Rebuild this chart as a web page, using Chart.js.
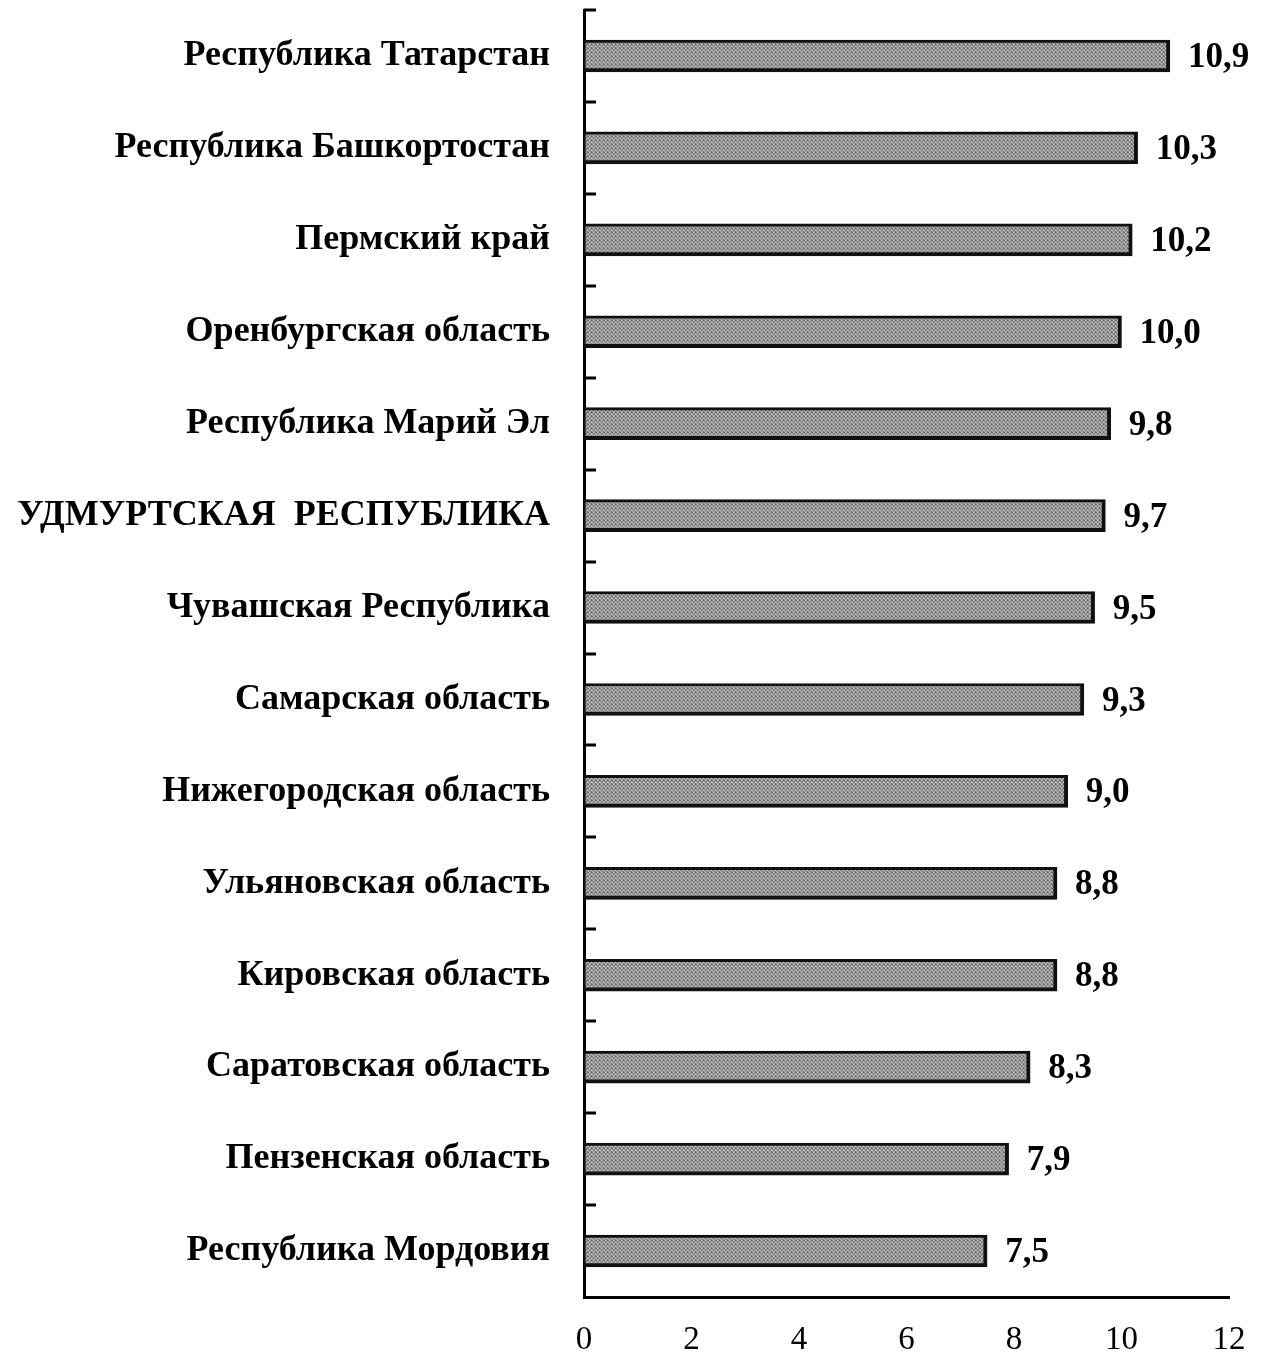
<!DOCTYPE html>
<html>
<head>
<meta charset="utf-8">
<script src="https://cdn.jsdelivr.net/npm/chart.js@4.4.1/dist/chart.umd.min.js"></script>
<style>
  html, body { margin: 0; padding: 0; background: #fff; }
  #wrap { width: 1268px; height: 1354px; }
</style>
</head>
<body>
<div id="wrap"><canvas id="chart" width="1268" height="1354"></canvas></div>
<script>
// Regions (top to bottom) and their values
const regions = [
    'Республика Татарстан',
    'Республика Башкортостан',
    'Пермский край',
    'Оренбургская область',
    'Республика Марий Эл',
    'УДМУРТСКАЯ  РЕСПУБЛИКА',
    'Чувашская Республика',
    'Самарская область',
    'Нижегородская область',
    'Ульяновская область',
    'Кировская область',
    'Саратовская область',
    'Пензенская область',
    'Республика Мордовия'
];
const values = [10.9, 10.3, 10.2, 10.0, 9.8, 9.7, 9.5, 9.3, 9.0, 8.8, 8.8, 8.3, 7.9, 7.5];
const xTicks = [0, 2, 4, 6, 8, 10, 12];

const SERIF = "'Liberation Serif', 'Times New Roman', serif";

// Grey dithered fill like the scanned original
function makePattern() {
    const c = document.createElement('canvas');
    c.width = 4;
    c.height = 4;
    const g = c.getContext('2d');
    g.fillStyle = '#a4a4a4';
    g.fillRect(0, 0, 4, 4);
    g.fillStyle = '#666';
    g.fillRect(0, 0, 1, 1);
    g.fillRect(2, 1, 1, 1);
    g.fillRect(1, 2, 1, 1);
    g.fillRect(3, 3, 1, 1);
    g.fillRect(3, 0, 1, 1);
    g.fillStyle = '#d0d0d0';
    g.fillRect(1, 0, 1, 1);
    g.fillRect(3, 2, 1, 1);
    return g.createPattern(c, 'repeat');
}

// Small inward ticks on the category axis, between categories
const boundaryTicks = {
    id: 'boundaryTicks',
    afterDraw(chart) {
        const y = chart.scales.y;
        const ctx = chart.ctx;
        const n = regions.length;
        const step = (y.bottom - y.top) / n;
        ctx.save();
        ctx.strokeStyle = '#000';
        ctx.lineWidth = 3;
        for (let i = 0; i < n; i++) {
            const py = Math.round(y.top + i * step);
            ctx.beginPath();
            ctx.moveTo(y.right, py);
            ctx.lineTo(y.right + 12, py);
            ctx.stroke();
        }
        ctx.restore();
    }
};

// Value labels at the end of each bar
const valueLabels = {
    id: 'valueLabels',
    afterDatasetsDraw(chart) {
        const ctx = chart.ctx;
        const meta = chart.getDatasetMeta(0);
        ctx.save();
        ctx.font = 'bold 35px ' + SERIF;
        ctx.fillStyle = '#000';
        ctx.textAlign = 'left';
        ctx.textBaseline = 'middle';
        meta.data.forEach((bar, i) => {
            const txt = values[i].toFixed(1).replace('.', ',');
            ctx.fillText(txt, bar.x + 18, bar.y + 2);
        });
        ctx.restore();
    }
};

const ctx = document.getElementById('chart').getContext('2d');
new Chart(ctx, {
    type: 'bar',
    data: {
        labels: regions,
        datasets: [{
            data: values,
            backgroundColor: makePattern(),
            borderColor: '#111',
            borderWidth: { top: 3, left: 2, right: 4, bottom: 4 },
            borderSkipped: false,
            barThickness: 32
        }]
    },
    options: {
        indexAxis: 'y',
        responsive: false,
        animation: false,
        layout: { padding: { top: 10, right: 39, left: 0, bottom: 0 } },
        plugins: {
            legend: { display: false },
            tooltip: { enabled: false }
        },
        scales: {
            x: {
                min: 0,
                max: 12,
                afterBuildTicks(scale) {
                    scale.ticks = xTicks.map(v => ({ value: v }));
                },
                afterFit(scale) {
                    scale.height = 57;
                    scale.paddingLeft = 0;
                    scale.paddingRight = 0;
                },
                grid: { display: false, drawTicks: false },
                border: { display: true, color: '#000', width: 3 },
                ticks: {
                    color: '#000',
                    padding: 24,
                    font: { family: SERIF, size: 33 }
                }
            },
            y: {
                afterFit(scale) {
                    scale.width = 584;
                    scale.paddingTop = 0;
                    scale.paddingBottom = 0;
                },
                grid: { display: false, drawTicks: false },
                border: { display: true, color: '#000', width: 3 },
                ticks: {
                    color: '#000',
                    padding: 34,
                    font: { family: SERIF, size: 36, weight: 'bold' }
                }
            }
        }
    },
    plugins: [boundaryTicks, valueLabels]
});
</script>
</body>
</html>
